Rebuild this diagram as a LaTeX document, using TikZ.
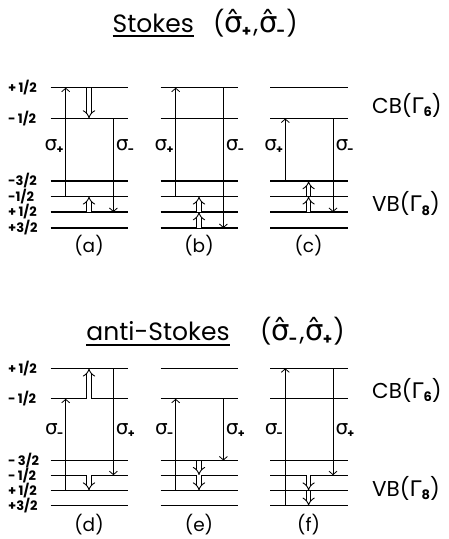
\documentclass[tikz,border=0pt]{standalone}
\usepackage{fontspec}
\setmainfont{Poppins}
\newfontfamily\gk{DejaVu Sans}
\usetikzlibrary{arrows.meta}

% sigma with a subscript sign, and with a hat
\newcommand\sgl[1]{{\gk\fontsize{20}{20}\selectfont σ}\kern-0.8pt\raisebox{-3pt}{\fontsize{11}{11}\selectfont\bfseries #1}}
\newcommand\hsg[1]{{\gk\fontsize{29}{29}\selectfont σ̂}\kern-1pt\raisebox{-4pt}{\fontsize{15}{15}\selectfont\bfseries #1}}
\newcommand\gam[1]{{\gk Γ}\raisebox{-3.5pt}{\fontsize{13}{13}\selectfont\bfseries #1}}

\tikzset{
  level/.style={line width=1.2pt},
  trans/.style={line width=0.8pt,-{Straight Barb[length=3.5pt,width=8pt,line width=0.8pt]}},
  relax/.style={double,double distance=3.4pt,line width=0.9pt,-{Implies}},
  title/.style={inner sep=0pt,font=\fontsize{25}{25}\selectfont},
  uline/.style={line width=1.5pt},
  band/.style={inner sep=0pt,anchor=west,font=\fontsize{21.5}{21.5}\selectfont},
  spin/.style={inner sep=0pt,anchor=west,font=\fontsize{13}{13}\selectfont\bfseries},
  sg/.style={inner sep=0pt},
  tag/.style={inner sep=0pt,font=\fontsize{18.5}{18.5}\selectfont},
}

\begin{document}
\begin{tikzpicture}[x=1pt,y=-1pt]
\useasboundingbox (0,0) rectangle (448,539);
\fill[white] (0,0) rectangle (448,539);

% ---------- Stokes ----------
\node[title,anchor=base] (ttl1) at (153.3,32) {Stokes};
\draw[uline] ([yshift=-4pt]ttl1.base west) -- ([yshift=-4pt]ttl1.base east);
\node[title,anchor=base west] (pol1) at (213,32) {(\hsg{+}\kern2pt,\kern1pt\hsg{-}\kern1pt)};

\foreach \p/\L in {a/50.7,b/160.7,c/270.3} {
  \foreach \k/\Y in {c1/87.7,c2/118.5,v1/181,v2/196.3,v3/212,v4/228} {
    \coordinate (\p-\k-l) at (\L,\Y);
    \coordinate (\p-\k-r) at (\L+77.6,\Y);
    \coordinate (\p-\k-1) at (\L+15,\Y);
    \coordinate (\p-\k-2) at (\L+38.3,\Y);
    \coordinate (\p-\k-3) at (\L+62.7,\Y);
    \draw[level] (\p-\k-l) -- (\p-\k-r);
  }
  \node[sg,anchor=east] (\p-sl) at (\L+13,147) {\sgl{+}};
  \node[sg,anchor=west] (\p-sr) at (\L+65,147) {\sgl{-}};
  \node[tag] (\p-tag) at (\L+38.3,246) {(\p)};
}

\node[spin] (s1) at (8,87.7) {+\,1/2};
\node[spin] (s2) at (8,118.5) {-\,1/2};
\node[spin] (s3) at (8,181) {-3/2};
\node[spin] (s4) at (8,196.3) {-1/2};
\node[spin] (s5) at (8,212) {+\,1/2};
\node[spin] (s6) at (8,228) {+3/2};

\node[band] (cb1) at (372,105) {CB(\gam{6})};
\node[band] (vb1) at (372,203.5) {VB(\gam{8})};

% (a)
\draw[trans] (a-v2-1) -- (a-c1-1);
\draw[relax] (a-c1-2) -- (a-c2-2);
\draw[trans] (a-c2-3) -- (a-v3-3);
\draw[relax] (a-v3-2) -- (a-v2-2);
% (b)
\draw[trans] (b-v2-1) -- (b-c1-1);
\draw[trans] (b-c1-3) -- (b-v4-3);
\draw[relax] (b-v4-2) -- (b-v3-2);
\draw[relax] (b-v3-2) -- (b-v2-2);
% (c)
\draw[trans] (c-v1-1) -- (c-c2-1);
\draw[trans] (c-c2-3) -- (c-v3-3);
\draw[relax] (c-v3-2) -- (c-v2-2);
\draw[relax] (c-v2-2) -- (c-v1-2);

% ---------- anti-Stokes ----------
\node[title,anchor=base] (ttl2) at (158,340) {anti-Stokes};
\draw[uline] ([yshift=-5pt]ttl2.base west) -- ([yshift=-5pt]ttl2.base east);
\node[title,anchor=base west] (pol2) at (260,340) {(\hsg{-}\kern2pt,\kern1pt\hsg{+}\kern1pt)};

\foreach \p/\L in {d/50.7,e/160.7,f/270.3} {
  \foreach \k/\Y in {c1/368.3,c2/398.8,v1/460.5,v2/475.2,v3/490.6,v4/505.8} {
    \coordinate (\p-\k-l) at (\L,\Y);
    \coordinate (\p-\k-r) at (\L+77.6,\Y);
    \coordinate (\p-\k-1) at (\L+15,\Y);
    \coordinate (\p-\k-2) at (\L+38.3,\Y);
    \coordinate (\p-\k-3) at (\L+62.7,\Y);
    \draw[level] (\p-\k-l) -- (\p-\k-r);
  }
  \node[sg,anchor=east] (\p-sl) at (\L+13,431) {\sgl{-}};
  \node[sg,anchor=west] (\p-sr) at (\L+65,431) {\sgl{+}};
  \node[tag] (\p-tag) at (\L+38.3,525) {(\p)};
}

\node[spin] (t1) at (8,368.3) {+\,1/2};
\node[spin] (t2) at (8,398.8) {-\,1/2};
\node[spin] (t3) at (8,460.5) {-\,3/2};
\node[spin] (t4) at (8,475.2) {-\,1/2};
\node[spin] (t5) at (8,490.6) {+\,1/2};
\node[spin] (t6) at (8,505.8) {+3/2};

\node[band] (cb2) at (372,390) {CB(\gam{6})};
\node[band] (vb2) at (372,488) {VB(\gam{8})};

% (d)
\draw[trans] (d-v3-1) -- (d-c2-1);
\draw[relax] (d-c2-2) -- (d-c1-2);
\draw[trans] (d-c1-3) -- (d-v2-3);
\draw[relax] (d-v2-2) -- (d-v3-2);
% (e)
\draw[trans] (e-v3-1) -- (e-c2-1);
\draw[trans] (e-c2-3) -- (e-v1-3);
\draw[relax] (e-v1-2) -- (e-v2-2);
\draw[relax] (e-v2-2) -- (e-v3-2);
% (f)
\draw[trans] (f-v4-1) -- (f-c1-1);
\draw[trans] (f-c1-3) -- (f-v2-3);
\draw[relax] (f-v2-2) -- (f-v3-2);
\draw[relax] (f-v3-2) -- (f-v4-2);
\end{tikzpicture}
\end{document}
